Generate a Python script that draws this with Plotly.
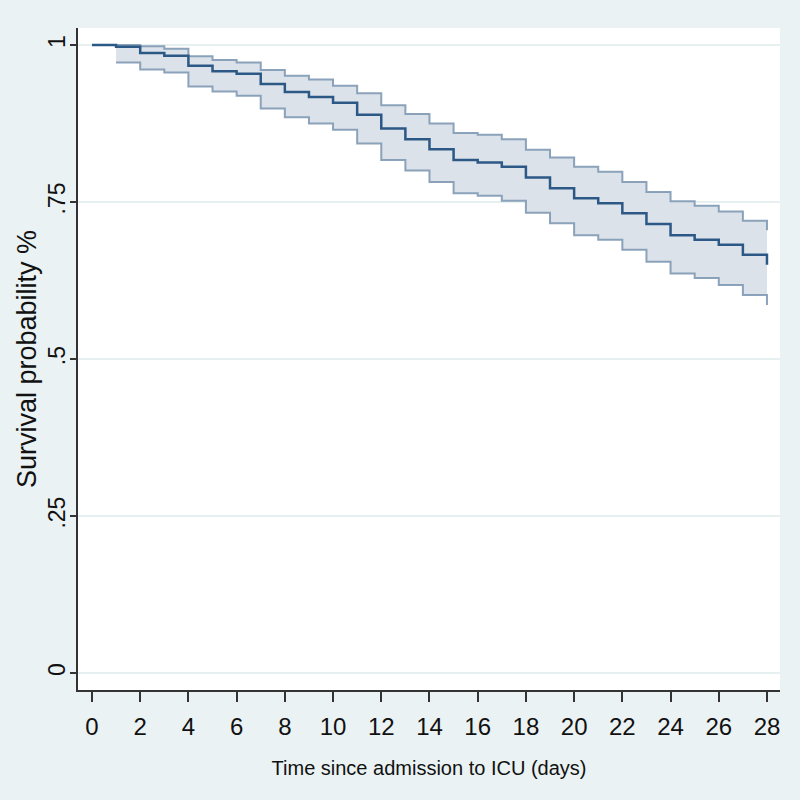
import plotly.graph_objects as go

days = list(range(0, 29))
survival = [1.000, 0.997, 0.987, 0.983, 0.967, 0.958, 0.954, 0.938, 0.925, 0.917,
            0.908, 0.889, 0.867, 0.850, 0.834, 0.817, 0.813, 0.806, 0.789, 0.772,
            0.756, 0.748, 0.732, 0.715, 0.697, 0.690, 0.682, 0.666, 0.650]
ci_days = list(range(1, 29))
upper_ci = [1.000, 0.998, 0.994, 0.982, 0.976, 0.972, 0.960, 0.951, 0.945, 0.935,
            0.923, 0.904, 0.890, 0.875, 0.860, 0.857, 0.850, 0.833, 0.821, 0.806,
            0.798, 0.782, 0.766, 0.751, 0.744, 0.735, 0.720, 0.705]
lower_ci = [0.972, 0.961, 0.956, 0.934, 0.926, 0.919, 0.899, 0.885, 0.875, 0.865,
            0.843, 0.817, 0.800, 0.782, 0.764, 0.760, 0.752, 0.733, 0.716, 0.697,
            0.690, 0.674, 0.655, 0.636, 0.629, 0.618, 0.602, 0.586]
x_ticks = list(range(0, 29, 2))
y_ticks = [0, 0.25, 0.5, 0.75, 1]
y_ticktext = ["0", ".25", ".5", ".75", "1"]

ci_line = "rgba(128,153,180,0.9)"
fig = go.Figure()
fig.add_trace(go.Scatter(x=ci_days, y=upper_ci, mode="lines", line=dict(shape="hv", color=ci_line, width=2),
                         showlegend=False, hoverinfo="skip"))
fig.add_trace(go.Scatter(x=ci_days, y=lower_ci, mode="lines", line=dict(shape="hv", color=ci_line, width=2),
                         fill="tonexty", fillcolor="rgba(220,226,234,1)", showlegend=False, hoverinfo="skip"))
fig.add_trace(go.Scatter(x=days, y=survival, mode="lines", line=dict(shape="hv", color="#2C5886", width=2.5),
                         showlegend=False))

narrow = "Liberation Sans Narrow, Arial Narrow, sans-serif"
regular = "Liberation Sans, Arial, sans-serif"
fig.update_layout(
    width=800, height=800,
    margin=dict(l=78, r=20, t=28, b=110),
    paper_bgcolor="#EAF2F3", plot_bgcolor="#FFFFFF",
    font=dict(family=regular, size=18, color="#111111"),
)
fig.update_xaxes(
    range=[-0.58, 28.54], tickvals=x_ticks, ticks="outside", ticklen=10, tickwidth=1.5,
    tickcolor="#333", showline=True, linecolor="#333", linewidth=1.5, showgrid=False,
    zeroline=False, automargin=False, ticklabelstandoff=4,
    title=dict(text="Time since admission to ICU (days)", standoff=22,
               font=dict(family=narrow, size=20)),
    tickfont=dict(family=narrow, size=24),
)
fig.update_yaxes(
    range=[-0.027, 1.027], tickvals=y_ticks, ticktext=y_ticktext, tickangle=-90,
    ticks="outside", ticklen=6, tickwidth=1.5, tickcolor="#333", showline=True,
    linecolor="#333", linewidth=1.5, showgrid=True, gridcolor="#E6F0F1", gridwidth=1.5,
    zeroline=False, automargin=False, ticklabelstandoff=-4,
    title=dict(text="Survival probability %", standoff=0, font=dict(family=regular, size=27)),
    tickfont=dict(family=regular, size=23),
)
fig.write_html("out.html", config={"displayModeBar": False},
               post_script="document.body.style.margin='0';document.body.style.background='#EAF2F3';")
